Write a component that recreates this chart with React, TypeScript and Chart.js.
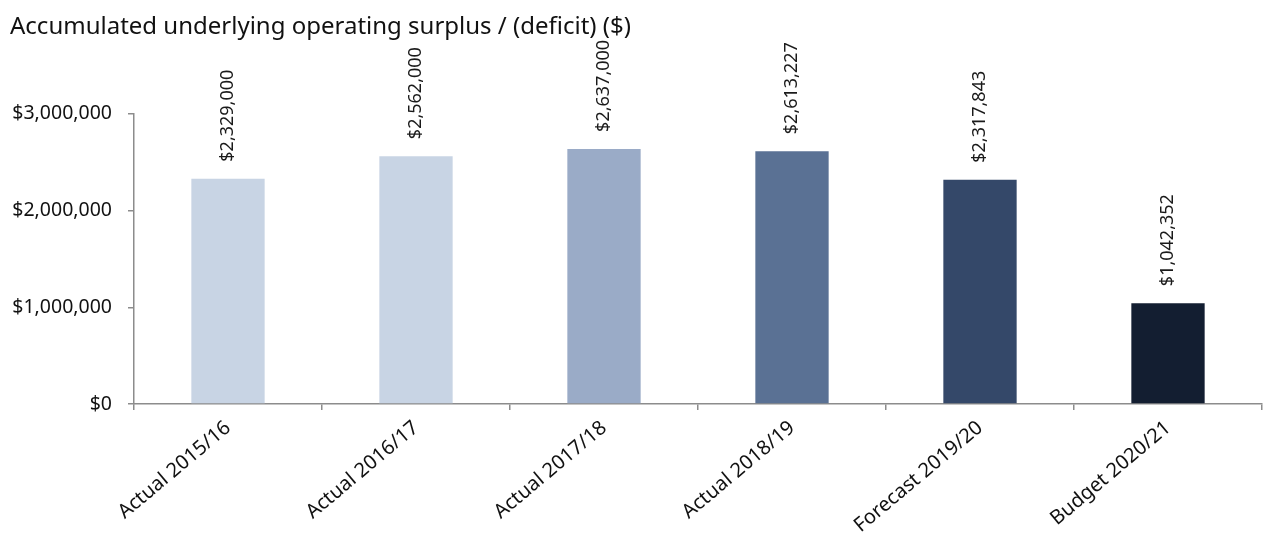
import React, { useEffect, useRef } from "react";
import { Chart, registerables } from "chart.js";

Chart.register(...registerables);

const categories = [
  "Actual 2015/16",
  "Actual 2016/17",
  "Actual 2017/18",
  "Actual 2018/19",
  "Forecast 2019/20",
  "Budget 2020/21",
];
const surplusValues = [2329000, 2562000, 2637000, 2613227, 2317843, 1042352];
const barColors = ["#c8d4e4", "#c8d4e4", "#9aabc7", "#5a7194", "#344869", "#131e31"];
const yTickValues = [0, 1000000, 2000000, 3000000];

const FONT = "'Noto Sans', sans-serif";
const AXIS_GREY = "#8c8c8c";

const fmtDollars = (v: number) => "$" + Math.round(v).toLocaleString("en-US");

// Draws each bar's value vertically just above the bar
const valueLabels = {
  id: "valueLabels",
  afterDatasetsDraw(chart: any) {
    const ctx = chart.ctx;
    const meta = chart.getDatasetMeta(0);
    ctx.save();
    ctx.font = `18px ${FONT}`;
    ctx.fillStyle = "#1a1a1a";
    ctx.textAlign = "left";
    ctx.textBaseline = "middle";
    meta.data.forEach((bar: any, i: number) => {
      const value = chart.data.datasets[0].data[i] as number;
      ctx.save();
      ctx.translate(bar.x, bar.y - 17);
      ctx.rotate(-Math.PI / 2);
      ctx.fillText(fmtDollars(value), 0, 0);
      ctx.restore();
    });
    ctx.restore();
  },
};

export default function App() {
  const canvasRef = useRef<HTMLCanvasElement | null>(null);

  useEffect(() => {
    if (!canvasRef.current) return;
    const chart = new Chart(canvasRef.current, {
      type: "bar",
      data: {
        labels: categories,
        datasets: [
          {
            data: surplusValues,
            backgroundColor: barColors,
            barPercentage: 0.39,
            categoryPercentage: 1,
          },
        ],
      },
      options: {
        animation: false,
        responsive: false,
        maintainAspectRatio: false,
        layout: { padding: { left: 10, right: 7, top: 0, bottom: 0 } },
        plugins: {
          legend: { display: false },
          tooltip: { enabled: false },
          title: {
            display: true,
            text: "Accumulated underlying operating surplus / (deficit) ($)",
            align: "start",
            color: "#111",
            font: { family: FONT, size: 24, weight: "normal" },
            padding: { top: 13, bottom: 72 },
          },
        },
        scales: {
          x: {
            grid: {
              offset: true,
              drawOnChartArea: false,
              drawTicks: true,
              tickLength: 6,
              color: AXIS_GREY,
              lineWidth: 1.5,
            },
            border: { display: true, color: AXIS_GREY, width: 1.5 },
            ticks: {
              color: "#111",
              font: { family: FONT, size: 20 },
              minRotation: 40,
              maxRotation: 40,
              padding: 6,
              autoSkip: false,
            },
            afterFit: (scale: any) => {
              scale.height = 132;
            },
          },
          y: {
            min: 0,
            max: 3000000,
            afterBuildTicks: (scale: any) => {
              scale.ticks = yTickValues.map((v) => ({ value: v }));
            },
            grid: {
              drawOnChartArea: false,
              drawTicks: true,
              tickLength: 6,
              color: AXIS_GREY,
              lineWidth: 1.5,
            },
            border: { display: true, color: AXIS_GREY, width: 1.5 },
            ticks: {
              color: "#111",
              font: { family: FONT, size: 19.5 },
              padding: 16,
              callback: (v: any) => fmtDollars(Number(v)),
            },
            afterFit: (scale: any) => {
              scale.width = 124;
            },
          },
        },
      },
      plugins: [valueLabels],
    });
    return () => chart.destroy();
  }, []);

  return (
    <div style={{ position: "absolute", left: 0, top: 0, width: 1269, height: 536, background: "#fff" }}>
      <canvas ref={canvasRef} width={1269} height={536} style={{ display: "block" }} />
    </div>
  );
}
